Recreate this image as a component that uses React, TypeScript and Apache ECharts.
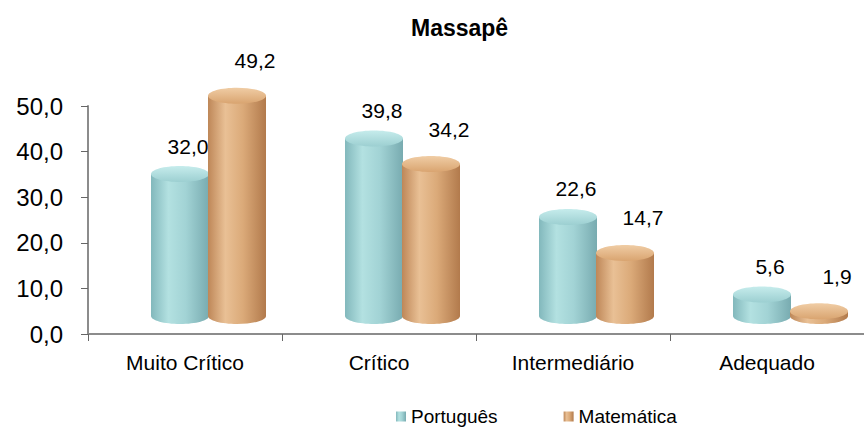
import React, { useEffect, useRef } from "react";
import * as echarts from "echarts";

const categories = ["Muito Crítico", "Crítico", "Intermediário", "Adequado"];
const portugues = [32.0, 39.8, 22.6, 5.6];
const matematica = [49.2, 34.2, 14.7, 1.9];
const seriesNames = ["Português", "Matemática"];
const yTicks = { min: 0, max: 50, interval: 10 };

const FONT = "'Liberation Sans', Arial, sans-serif";
const fmt = (v: number) => v.toFixed(1).replace(".", ",");

const blueBody = [
  { offset: 0, color: "#82B8BC" },
  { offset: 0.3, color: "#B3E1E1" },
  { offset: 0.6, color: "#A2D3D5" },
  { offset: 1, color: "#78ABB0" },
];
const orangeBody = [
  { offset: 0, color: "#BE8758" },
  { offset: 0.3, color: "#E9C095" },
  { offset: 0.6, color: "#DBAA79" },
  { offset: 1, color: "#B27A4C" },
];
const blueTop = [
  { offset: 0, color: "#C6ECEC" },
  { offset: 1, color: "#9CCFD1" },
];
const orangeTop = [
  { offset: 0, color: "#F0CDA5" },
  { offset: 1, color: "#D9A470" },
];

function makeRender(dx: number, body: any, top: any, labelDx: number, labelDy: number) {
  return (params: any, api: any) => {
    const idx = api.value(0);
    const v = api.value(1);
    const c = api.coord([idx, v]);
    const c0 = api.coord([idx, 0]);
    const rx = 29;
    const ry = 8;
    const cx = c[0] + dx;
    const topY = c[1] - 14;
    const botY = c0[1] - 18;
    const bodyFill = new echarts.graphic.LinearGradient(0, 0, 1, 0, body);
    const topFill = new echarts.graphic.LinearGradient(0, 0, 0, 1, top);
    return {
      type: "group",
      children: [
        {
          type: "ellipse",
          shape: { cx, cy: botY, rx, ry },
          style: { fill: bodyFill },
        },
        {
          type: "rect",
          shape: { x: cx - rx, y: topY, width: rx * 2, height: Math.max(0, botY - topY) },
          style: { fill: bodyFill },
        },
        {
          type: "ellipse",
          shape: { cx, cy: topY, rx, ry },
          style: { fill: topFill },
        },
        {
          type: "text",
          x: c[0] + labelDx,
          y: c[1] + labelDy,
          style: {
            text: fmt(v),
            fill: "#000",
            fontSize: 21,
            fontFamily: FONT,
            align: "center",
            verticalAlign: "middle",
          },
        },
      ],
    };
  };
}

export default function App() {
  const ref = useRef<HTMLDivElement>(null);
  useEffect(() => {
    if (!ref.current) return;
    const chart = echarts.init(ref.current, undefined, { renderer: "svg" });
    chart.setOption({
      animation: false,
      backgroundColor: "#fff",
      title: {
        text: "Massapê",
        left: 406,
        top: 11,
        textStyle: { fontSize: 23, fontWeight: "bold", fontFamily: FONT, color: "#000" },
      },
      legend: {
        left: 396,
        top: 407,
        itemWidth: 10,
        itemHeight: 10,
        itemGap: 66,
        icon: "rect",
        padding: 0,
        textStyle: { fontSize: 19, fontFamily: FONT, color: "#000", padding: [0, 0, 0, 0] },
        data: seriesNames,
      },
      grid: { left: 88, top: 106, height: 228, width: 784, containLabel: false },
      xAxis: {
        type: "category",
        data: categories,
        boundaryGap: true,
        axisLine: { lineStyle: { color: "#8c8c8c", width: 2 } },
        axisTick: { show: true, length: 7, lineStyle: { color: "#666" } },
        axisLabel: { fontSize: 21, fontFamily: FONT, color: "#000", margin: 18 },
      },
      yAxis: {
        type: "value",
        min: yTicks.min,
        max: yTicks.max,
        interval: yTicks.interval,
        splitLine: { show: false },
        axisLine: { show: true, lineStyle: { color: "#8c8c8c", width: 2 } },
        axisTick: { show: true, length: 7, lineStyle: { color: "#666" } },
        axisLabel: {
          fontSize: 24,
          fontFamily: FONT,
          color: "#000",
          margin: 25,
          formatter: (v: number) => fmt(v),
        },
      },
      series: [
        {
          name: seriesNames[0],
          type: "custom",
          itemStyle: { color: new echarts.graphic.LinearGradient(0, 0, 1, 0, blueBody) },
          renderItem: makeRender(-5, blueBody, blueTop, 3, -42),
          data: portugues.map((v, i) => [i, v]),
          encode: { x: 0, y: 1 },
        },
        {
          name: seriesNames[1],
          type: "custom",
          itemStyle: { color: new echarts.graphic.LinearGradient(0, 0, 1, 0, orangeBody) },
          renderItem: makeRender(52, orangeBody, orangeTop, 70, -49),
          data: matematica.map((v, i) => [i, v]),
          encode: { x: 0, y: 1 },
        },
      ],
    });
    return () => chart.dispose();
  }, []);
  return (
    <div
      ref={ref}
      style={{ position: "fixed", left: 0, top: 0, width: 864, height: 428 }}
    />
  );
}
